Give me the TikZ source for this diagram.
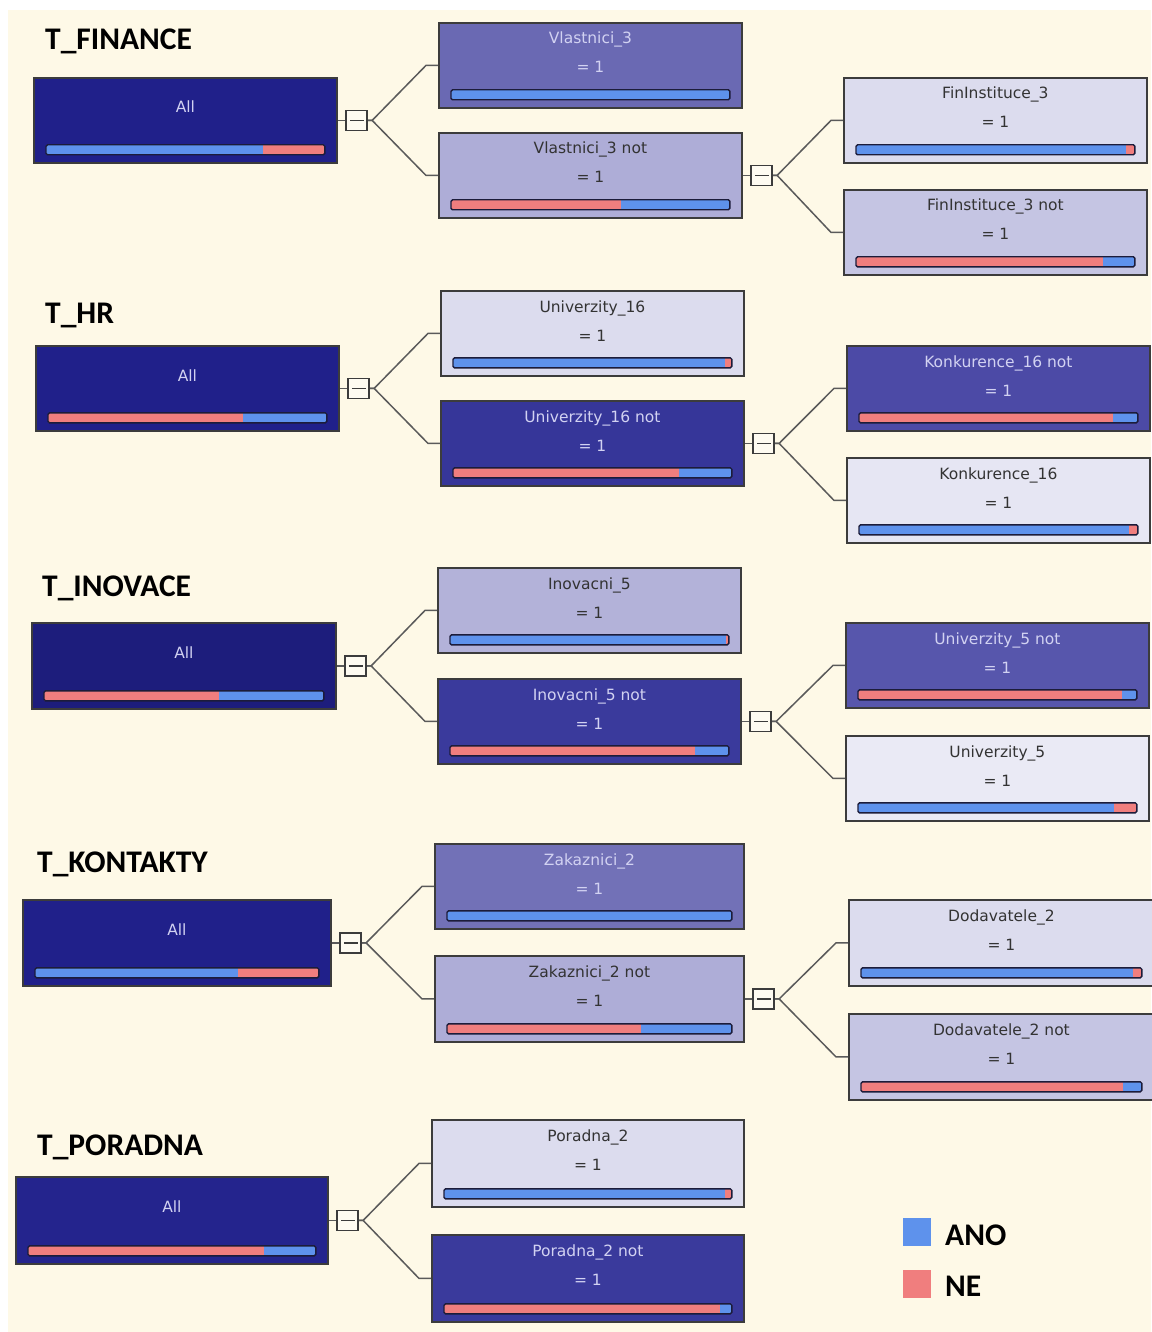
\documentclass[tikz,border=0pt]{standalone}
\usepackage{fontspec}
\setmainfont{DejaVu Sans}
\newfontfamily\titlefont{Carlito}
\usetikzlibrary{
    calc,        % For bar split points
    positioning  % For legend labels
}

\definecolor{bgcream}{HTML}{FEF9E7}
\definecolor{boxedge}{HTML}{3C3C3C}
\definecolor{linkgray}{HTML}{5A5A5A}
\definecolor{barline}{HTML}{1C1C3A}
\definecolor{ano}{HTML}{5E92EC}
\definecolor{ne}{HTML}{F07E7E}
\definecolor{txtlight}{HTML}{D2D2F2}
\definecolor{txtdark}{HTML}{333333}
% box fills, darkest to lightest
\definecolor{navy}{HTML}{20208A}
\definecolor{deep}{HTML}{3A3A9C}
\definecolor{mid}{HTML}{4F4DA8}
\definecolor{purple}{HTML}{6B6AB4}
\definecolor{lilac}{HTML}{AEADD7}
\definecolor{pale}{HTML}{C5C5E3}
\definecolor{palest}{HTML}{DCDCEE}

% #1=box name, #2=split, #3=left colour, #4=right colour
\newcommand{\drawbar}[4]{%
    \coordinate (#1b0) at ([xshift=13pt,yshift=9pt]#1.south west);
    \coordinate (#1b1) at ([xshift=-13pt,yshift=19pt]#1.south east);
    \coordinate (#1bs) at ($(#1b0)!#2!(#1b1)$);
    \fill[#4, rounded corners=1.5pt] (#1b0) rectangle (#1b1);
    \fill[#3] (#1b0) rectangle (#1bs |- #1b1);
    \draw[barframe] (#1b0) rectangle (#1b1);
}

% #1=options, #2=name, #3=corner, #4=fill, #5=split, #6=left, #7=right
\newcommand{\allbox}[7][]{%
    \node[treebox, fill=#4, #1] (#2) at #3 {};
    \node[boxtext, text=txtlight] (#2lbl) at ([yshift=-36pt]#2.north) {All};
    \drawbar{#2}{#5}{#6}{#7}
}

% #1=options, #2=name, #3=corner, #4=fill, #5=text colour, #6=label,
% #7=split, #8=left, #9=right
\newcommand{\childbox}[9][]{%
    \node[treebox, fill=#4, #1] (#2) at #3 {};
    \node[boxtext, text=#5] (#2lbl) at ([yshift=-22pt]#2.north) {#6};
    \node[boxtext, text=#5] (#2eq) at ([yshift=-51pt]#2.north) {= 1};
    \drawbar{#2}{#7}{#8}{#9}
}

% #1=switch name, #2=parent, #3=upper child, #4=lower child
\newcommand{\forkto}[4]{%
    \node[switch] (#1) at ([xshift=19pt]#2.east) {};
    \draw[link] (#2.east) -- (#1.west);
    \draw[link] (#1.east) -- ++(4,0) -- ([xshift=-12pt]#3.west) -- (#3.west);
    \draw[link] (#1.east) -- ++(4,0) -- ([xshift=-12pt]#4.west) -- (#4.west);
}

\begin{document}
\begin{tikzpicture}[
    x=1pt, y=-1pt,
    treebox/.style={draw=boxedge, line width=1.8pt, anchor=north west,
        minimum width=303pt, minimum height=85pt, inner sep=0pt},
    boxtext/.style={font=\fontsize{15.5}{18}\selectfont, anchor=base, inner sep=0pt},
    barframe/.style={draw=barline, line width=1.4pt, rounded corners=1.5pt},
    link/.style={draw=linkgray, line width=1.5pt},
    switch/.style={draw=boxedge, line width=1.7pt, fill=bgcream!60!white,
        minimum width=21pt, minimum height=20pt, inner sep=0pt,
        path picture={\draw[boxedge, line width=1.6pt]
            ([xshift=3.5pt]path picture bounding box.west) --
            ([xshift=-3.5pt]path picture bounding box.east);}},
    title/.style={font=\titlefont\bfseries\fontsize{31.5}{36}\selectfont,
        anchor=base west, inner sep=0pt},
    legendkey/.style={minimum size=28pt, inner sep=0pt}
]
\useasboundingbox (0,0) rectangle (1151,1332);
\fill[white] (0,0) rectangle (1151,1332);
\fill[bgcream] (8,10) rectangle (1151,1332);

% T_FINANCE
\node[title] (tFin) at (45,50) {T\_FINANCE};
\allbox{fAll}{(33,77)}{navy}{0.78}{ano}{ne}
\childbox{fVl}{(438,22)}{purple!95!mid}{txtlight}{Vlastnici\_3}{1}{ano}{ano}
\childbox{fVlN}{(438,132)}{lilac}{txtdark}{Vlastnici\_3 not}{0.61}{ne}{ano}
\childbox{fFi}{(843,77)}{palest}{txtdark}{FinInstituce\_3}{0.967}{ano}{ne}
\childbox{fFiN}{(843,189)}{pale}{txtdark}{FinInstituce\_3 not}{0.885}{ne}{ano}
\forkto{fSw}{fAll}{fVl}{fVlN}
\forkto{fSwN}{fVlN}{fFi}{fFiN}

% T_HR
\node[title] (tHr) at (45,323) {T\_HR};
\allbox{hAll}{(35,345)}{navy}{0.70}{ne}{ano}
\childbox{hUn}{(440,290)}{palest}{txtdark}{Univerzity\_16}{0.975}{ano}{ne}
\childbox{hUnN}{(440,400)}{deep!85!navy}{txtlight}{Univerzity\_16 not}{0.81}{ne}{ano}
\childbox{hKoN}{(846,345)}{mid!85!deep}{txtlight}{Konkurence\_16 not}{0.91}{ne}{ano}
\childbox{hKo}{(846,457)}{palest!70!white}{txtdark}{Konkurence\_16}{0.97}{ano}{ne}
\forkto{hSw}{hAll}{hUn}{hUnN}
\forkto{hSwN}{hUnN}{hKoN}{hKo}

% T_INOVACE
\node[title] (tIno) at (42,596) {T\_INOVACE};
\allbox[minimum width=304pt, minimum height=86pt]{iAll}{(31,622)}{navy!90!black}{0.626}{ne}{ano}
\childbox{iIn}{(437,567)}{lilac!80!pale}{txtdark}{Inovacni\_5}{0.99}{ano}{ne}
\childbox{iInN}{(437,678)}{deep}{txtlight}{Inovacni\_5 not}{0.88}{ne}{ano}
\childbox{iUnN}{(845,622)}{mid!70!purple}{txtlight}{Univerzity\_5 not}{0.946}{ne}{ano}
\childbox{iUn}{(845,735)}{palest!60!white}{txtdark}{Univerzity\_5}{0.917}{ano}{ne}
\forkto{iSw}{iAll}{iIn}{iInN}
\forkto{iSwN}{iInN}{iUnN}{iUn}

% T_KONTAKTY
\node[title] (tKon) at (37,872) {T\_KONTAKTY};
\allbox[minimum width=308pt, minimum height=86pt]{kAll}{(22,899)}{navy}{0.716}{ano}{ne}
\childbox[minimum width=309pt]{kZa}{(434,843)}{purple!90!lilac}{txtlight}{Zakaznici\_2}{1}{ano}{ano}
\childbox[minimum width=309pt, minimum height=86pt]{kZaN}{(434,955)}{lilac}{txtdark}{Zakaznici\_2 not}{0.68}{ne}{ano}
\childbox[minimum width=305pt, minimum height=86pt]{kDo}{(848,899)}{palest}{txtdark}{Dodavatele\_2}{0.968}{ano}{ne}
\childbox[minimum width=305pt, minimum height=86pt]{kDoN}{(848,1013)}{pale}{txtdark}{Dodavatele\_2 not}{0.933}{ne}{ano}
\forkto{kSw}{kAll}{kZa}{kZaN}
\forkto{kSwN}{kZaN}{kDo}{kDoN}

% T_PORADNA
\node[title] (tPor) at (37,1155) {T\_PORADNA};
\allbox[minimum width=312pt, minimum height=87pt]{pAll}{(15,1176)}{navy!85!deep}{0.82}{ne}{ano}
\childbox[minimum width=312pt, minimum height=87pt]{pPo}{(431,1119)}{palest}{txtdark}{Poradna\_2}{0.975}{ano}{ne}
\childbox[minimum width=312pt, minimum height=87pt]{pPoN}{(431,1234)}{deep}{txtlight}{Poradna\_2 not}{0.96}{ne}{ano}
\forkto{pSw}{pAll}{pPo}{pPoN}

% Legend
\node[legendkey, fill=ano] (keyAno) at (917,1232) {};
\node[legendkey, fill=ne] (keyNe) at (917,1284) {};
\node[title] (lblAno) at (945,1245) {ANO};
\node[title] (lblNe) at (945,1296) {NE};

\end{tikzpicture}
\end{document}
